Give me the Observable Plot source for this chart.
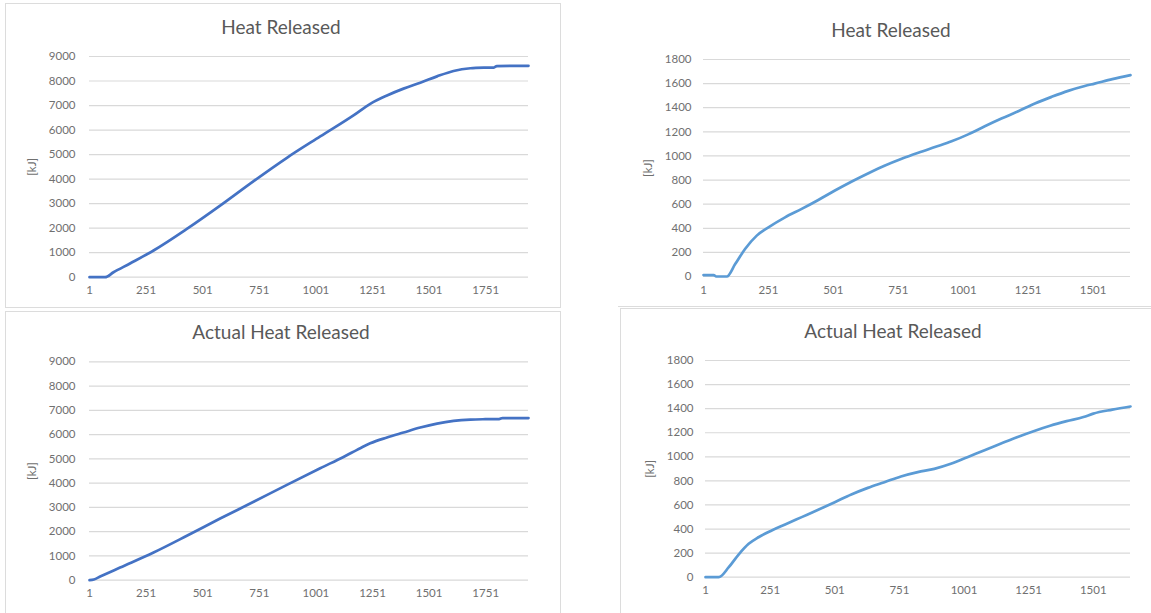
<!DOCTYPE html>
<html>
<head>
<meta charset="utf-8">
<script src="https://cdn.jsdelivr.net/npm/d3@7"></script>
<script src="https://cdn.jsdelivr.net/npm/@observablehq/plot@0.6"></script>
<style>
  body { margin: 0; background: #fff; font-family: Lato, "Open Sans", sans-serif; }
  #page { position: relative; width: 1151px; height: 613px; overflow: hidden; background: #fff; }
  .panel { position: absolute; border: 1px solid #dcdcdc; box-sizing: border-box; }
  .title { position: absolute; transform: translateX(-50%); font-size: 19px; line-height: 24px; color: #595959; white-space: nowrap; }
  .chart { position: absolute; }
</style>
</head>
<body>
<div id="page"></div>
<script>
// Heat released [kJ] against sample number, long run (1940 samples)
const longRunCount = 1940;
const heatLongIdx = [1, 70, 107, 180, 284, 431, 578, 726, 873, 1020, 1167, 1241, 1315, 1388, 1462, 1536, 1609, 1683, 1749, 1785, 1800, 1940];
const heatLongKJ  = [0, 0, 200, 560, 1090, 1970, 2920, 3920, 4870, 5740, 6600, 7070, 7410, 7690, 7930, 8190, 8410, 8520, 8545, 8550, 8610, 8620];

// Actual heat released [kJ], long run
const actualLongIdx = [1, 20, 48, 136, 284, 431, 578, 726, 873, 1020, 1123, 1197, 1241, 1315, 1388, 1462, 1536, 1609, 1683, 1749, 1810, 1825, 1940];
const actualLongKJ  = [0, 30, 150, 520, 1140, 1830, 2540, 3230, 3930, 4615, 5080, 5440, 5640, 5880, 6085, 6290, 6455, 6565, 6620, 6635, 6640, 6680, 6680];

// Heat released [kJ], short run (1645 samples)
const shortRunCount = 1645;
const heatShortIdx = [1, 40, 50, 91, 123, 161, 206, 251, 315, 379, 443, 507, 572, 636, 700, 764, 828, 892, 956, 1020, 1084, 1148, 1213, 1277, 1341, 1405, 1469, 1507, 1575, 1645];
const heatShortKJ  = [12, 12, 0, 0, 103, 228, 339, 408, 491, 561, 635, 713, 788, 857, 921, 977, 1027, 1074, 1121, 1179, 1246, 1310, 1371, 1435, 1490, 1540, 1580, 1600, 1637, 1670];

// Actual heat released [kJ], short run
const actualShortIdx = [1, 52, 91, 129, 168, 206, 257, 309, 373, 437, 501, 565, 629, 693, 757, 822, 886, 950, 1014, 1078, 1142, 1206, 1270, 1334, 1398, 1463, 1501, 1575, 1645];
const actualShortKJ  = [0, 0, 83, 188, 277, 332, 388, 438, 499, 560, 623, 687, 742, 789, 837, 873, 900, 942, 997, 1053, 1108, 1163, 1213, 1258, 1296, 1330, 1359, 1392, 1418];

// Axis ticks
const longXTicks  = [1, 251, 501, 751, 1001, 1251, 1501, 1751];
const shortXTicks = [1, 251, 501, 751, 1001, 1251, 1501];
const longYTicks  = [0, 1000, 2000, 3000, 4000, 5000, 6000, 7000, 8000, 9000];
const shortYTicks = [0, 200, 400, 600, 800, 1000, 1200, 1400, 1600, 1800];

const titles = ["Heat Released", "Heat Released", "Actual Heat Released", "Actual Heat Released"];
const unitLabel = "[kJ]";

const page = document.getElementById("page");

function rows(idx, kj) {
  return idx.map((i, k) => ({i, kJ: kj[k]}));
}

function addBox(cls, css, text) {
  const el = document.createElement("div");
  el.className = cls;
  Object.assign(el.style, css);
  if (text) el.textContent = text;
  page.appendChild(el);
  return el;
}

function chart(o) {
  const svg = Plot.plot({
    width: o.width,
    height: o.height,
    marginLeft: o.ml,
    marginRight: o.mr,
    marginTop: o.mt,
    marginBottom: o.mb,
    style: {fontFamily: "Lato, 'Open Sans', sans-serif", fontSize: "11.5px", color: "#707070", background: "transparent", overflow: "visible"},
    x: {domain: [1, o.n], ticks: o.xTicks},
    y: {domain: [0, o.yMax], ticks: o.yTicks},
    marks: [
      Plot.gridY(o.yTicks, {stroke: "#d9d9d9", strokeOpacity: 1, strokeWidth: 1.2}),
      Plot.axisY(o.yTicks, {tickSize: 0, tickPadding: o.tp, tickFormat: d => String(d),
        label: unitLabel, labelAnchor: "center", labelArrow: "none", labelOffset: o.lo}),
      Plot.axisX(o.xTicks, {tickSize: 0, tickPadding: 9, tickFormat: d => String(d), label: null}),
      Plot.line(rows(o.idx, o.kj), {x: "i", y: "kJ", stroke: o.color, strokeWidth: 2.7, curve: "monotone-x"})
    ]
  });
  const wrap = addBox("chart", {left: o.left + "px", top: o.top + "px"});
  wrap.appendChild(svg);
}

// panel frames
addBox("panel", {left: "5px", top: "3px", width: "556px", height: "305px"});
addBox("panel", {left: "5px", top: "311px", width: "556px", height: "310px"});
addBox("panel", {left: "618px", top: "-5px", width: "540px", height: "312px", borderLeft: "none"});
addBox("panel", {left: "620px", top: "308px", width: "540px", height: "310px"});

// titles
addBox("title", {left: "281px", top: "15px"}, titles[0]);
addBox("title", {left: "891px", top: "18px"}, titles[1]);
addBox("title", {left: "281px", top: "320px"}, titles[2]);
addBox("title", {left: "893px", top: "319px"}, titles[3]);

chart({left: 0, top: 40, width: 560, height: 270, ml: 89, mr: 32, mt: 16, mb: 33.3, tp: 14, lo: 62,
  n: longRunCount, yMax: 9000, xTicks: longXTicks, yTicks: longYTicks,
  idx: heatLongIdx, kj: heatLongKJ, color: "#4472c4"});
chart({left: 580, top: 40, width: 571, height: 270, ml: 123, mr: 21, mt: 19, mb: 34, tp: 12, lo: 60,
  n: shortRunCount, yMax: 1800, xTicks: shortXTicks, yTicks: shortYTicks,
  idx: heatShortIdx, kj: heatShortKJ, color: "#5b9bd5"});
chart({left: 0, top: 345, width: 560, height: 265, ml: 89, mr: 32, mt: 16.3, mb: 30.3, tp: 14, lo: 62,
  n: longRunCount, yMax: 9000, xTicks: longXTicks, yTicks: longYTicks,
  idx: actualLongIdx, kj: actualLongKJ, color: "#4472c4"});
chart({left: 582, top: 345, width: 569, height: 265, ml: 123, mr: 21, mt: 15, mb: 33.3, tp: 12, lo: 60,
  n: shortRunCount, yMax: 1800, xTicks: shortXTicks, yTicks: shortYTicks,
  idx: actualShortIdx, kj: actualShortKJ, color: "#5b9bd5"});
</script>
</body>
</html>
